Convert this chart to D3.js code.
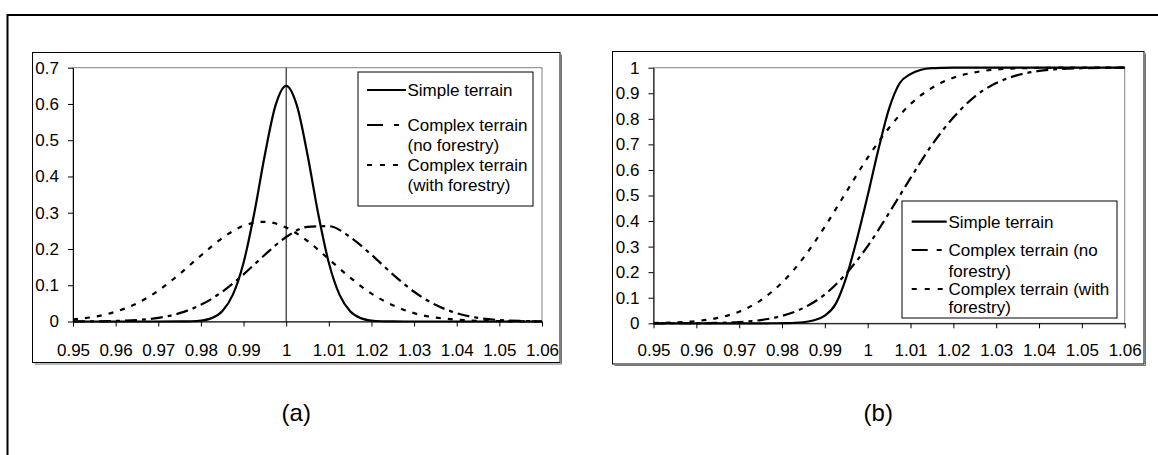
<!DOCTYPE html>
<html>
<head>
<meta charset="utf-8">
<script src="https://cdn.jsdelivr.net/npm/d3@7"></script>
<style>
  body { margin: 0; background: #fff; }
  svg text { font-family: "Liberation Sans", Arial, sans-serif; fill: #000; }
</style>
</head>
<body>
<svg id="fig" width="1158" height="455"></svg>
<script>
// x positions for the narrow "simple terrain" curves
const xFine = [0.95, 0.96, 0.97, 0.975, 0.9775, 0.98, 0.9825, 0.985, 0.9875, 0.99, 0.9925, 0.995, 0.9975, 1,
  1.0025, 1.005, 1.0075, 1.01, 1.0125, 1.015, 1.0175, 1.02, 1.0225, 1.025, 1.03, 1.04, 1.05, 1.06];
// x positions for the wider "complex terrain" curves
const xCoarse = [0.95, 0.955, 0.96, 0.965, 0.97, 0.975, 0.98, 0.985, 0.99, 0.995, 1, 1.005,
  1.01, 1.015, 1.02, 1.025, 1.03, 1.035, 1.04, 1.045, 1.05, 1.055, 1.06];

// (a) densities
const simpleA = [0, 0, 0, 0.0001, 0.0006, 0.0025, 0.0093, 0.0285, 0.074, 0.162, 0.298, 0.46, 0.596, 0.65,
  0.596, 0.46, 0.298, 0.162, 0.074, 0.0285, 0.0093, 0.0025, 0.0006, 0.0001, 0, 0, 0, 0];
const noForestA = [0.0001, 0.0004, 0.0014, 0.004, 0.010, 0.023, 0.046, 0.082, 0.130, 0.184, 0.233, 0.261,
  0.263, 0.233, 0.184, 0.130, 0.082, 0.046, 0.023, 0.010, 0.004, 0.0014, 0.0004];
const withForestA = [0.0057, 0.013, 0.027, 0.050, 0.085, 0.131, 0.182, 0.23, 0.264, 0.275, 0.259, 0.222,
  0.172, 0.121, 0.077, 0.045, 0.023, 0.011, 0.005, 0.002, 0.001, 0.0003, 0.0001];

// (b) cumulative
const simpleB = [0, 0, 0, 0, 0.0001, 0.0003, 0.0012, 0.004, 0.012, 0.03, 0.075, 0.18, 0.33, 0.5,
  0.68, 0.84, 0.94, 0.975, 0.992, 0.998, 0.9995, 1, 1, 1, 1, 1, 1, 1];
const noForestB = [0, 0.0002, 0.0005, 0.0017, 0.0048, 0.0125, 0.029, 0.06, 0.113, 0.195, 0.302, 0.432,
  0.568, 0.698, 0.805, 0.887, 0.94, 0.971, 0.9875, 0.995, 0.998, 0.9995, 1];
const withForestB = [0.0011, 0.0033, 0.0087, 0.021, 0.0455, 0.09, 0.159, 0.256, 0.378, 0.514, 0.648, 0.765,
  0.858, 0.921, 0.961, 0.982, 0.993, 0.9974, 0.9992, 1, 1, 1, 1];

const xTicks = [0.95, 0.96, 0.97, 0.98, 0.99, 1, 1.01, 1.02, 1.03, 1.04, 1.05, 1.06];
const xTickLabels = ['0.95', '0.96', '0.97', '0.98', '0.99', '1', '1.01', '1.02', '1.03', '1.04', '1.05', '1.06'];
const yTicksA = [0, 0.1, 0.2, 0.3, 0.4, 0.5, 0.6, 0.7];
const yTickLabelsA = ['0', '0.1', '0.2', '0.3', '0.4', '0.5', '0.6', '0.7'];
const yTicksB = [0, 0.1, 0.2, 0.3, 0.4, 0.5, 0.6, 0.7, 0.8, 0.9, 1];
const yTickLabelsB = ['0', '0.1', '0.2', '0.3', '0.4', '0.5', '0.6', '0.7', '0.8', '0.9', '1'];

const dashes = [null, '12,5,4,5', '5,7'];

const svg = d3.select('#fig');

// outer frame
svg.append('rect')
  .attr('x', 7.5).attr('y', 15)
  .attr('width', 1200).attr('height', 500)
  .attr('fill', 'none').attr('stroke', '#000').attr('stroke-width', 2);

function drawPanel(opt) {
  const g = svg.append('g');

  // chart box with small shadow
  g.append('path')
    .attr('d', `M${opt.box[2] + 1.5},${opt.box[1] + 2}V${opt.box[3] + 1.5}H${opt.box[0] + 2}`)
    .attr('fill', 'none').attr('stroke', '#777').attr('stroke-width', 1);
  g.append('rect')
    .attr('x', opt.box[0]).attr('y', opt.box[1])
    .attr('width', opt.box[2] - opt.box[0]).attr('height', opt.box[3] - opt.box[1])
    .attr('fill', '#fff').attr('stroke', '#000');

  const x = d3.scaleLinear().domain([0.95, 1.06]).range(opt.xRange);
  const y = d3.scaleLinear().domain(opt.yDomain).range(opt.yRange);

  // plot area border
  g.append('rect')
    .attr('x', opt.xRange[0]).attr('y', opt.yRange[1])
    .attr('width', opt.xRange[1] - opt.xRange[0]).attr('height', opt.yRange[0] - opt.yRange[1])
    .attr('fill', 'none').attr('stroke', '#808080');

  if (opt.vline) {
    g.append('line')
      .attr('x1', x(1)).attr('x2', x(1))
      .attr('y1', opt.yRange[0]).attr('y2', opt.yRange[1])
      .attr('stroke', '#000').attr('stroke-width', 1);
  }

  const xAxis = g.append('g')
    .attr('transform', `translate(0,${opt.yRange[0]})`)
    .call(d3.axisBottom(x).tickValues(xTicks).tickSize(5).tickSizeOuter(0)
      .tickFormat((d, i) => xTickLabels[i]));
  xAxis.selectAll('text')
    .attr('y', 356 - opt.yRange[0]).attr('dy', 0)
    .style('font-size', '17px');

  const yAxis = g.append('g')
    .attr('transform', `translate(${opt.xRange[0]},0)`)
    .call(d3.axisLeft(y).tickValues(opt.yTicks).tickSize(5).tickSizeOuter(0).tickPadding(9)
      .tickFormat((d, i) => opt.yTickLabels[i]));
  yAxis.selectAll('text').style('font-size', '17px');

  g.selectAll('.domain, .tick line').attr('stroke', '#000');

  const line = xs => d3.line()
    .x((d, i) => x(xs[i]))
    .y(d => y(d))
    .curve(d3.curveMonotoneX);

  opt.series.forEach((s, k) => {
    g.append('path')
      .attr('d', line(s.xs)(s.values))
      .attr('fill', 'none')
      .attr('stroke', '#000')
      .attr('stroke-width', 2.2)
      .attr('stroke-dasharray', dashes[k]);
  });

  // legend
  const L = opt.legend;
  g.append('rect')
    .attr('x', L.box[0]).attr('y', L.box[1])
    .attr('width', L.box[2] - L.box[0]).attr('height', L.box[3] - L.box[1])
    .attr('fill', '#fff').attr('stroke', '#000');

  L.entries.forEach((e, k) => {
    g.append('line')
      .attr('x1', L.lineX[0]).attr('x2', L.lineX[1])
      .attr('y1', e[0][1]).attr('y2', e[0][1])
      .attr('stroke', '#000').attr('stroke-width', 2.2)
      .attr('stroke-dasharray', L.dashes[k]);
    e.forEach(([txt, cy]) => {
      g.append('text')
        .attr('x', L.textX).attr('y', cy).attr('dy', '0.35em')
        .style('font-size', '17px')
        .text(txt);
    });
  });

  g.append('text')
    .attr('x', (opt.box[0] + opt.box[2]) / 2)
    .attr('y', 421)
    .attr('text-anchor', 'middle')
    .style('font-size', '24px')
    .text(opt.caption);
}

drawPanel({
  box: [32.5, 52.5, 560, 362.5],
  xRange: [73, 542],
  yRange: [321.5, 67.7],
  yDomain: [0, 0.7],
  yTicks: yTicksA,
  yTickLabels: yTickLabelsA,
  vline: true,
  series: [
    { xs: xFine, values: simpleA },
    { xs: xCoarse, values: noForestA },
    { xs: xCoarse, values: withForestA }
  ],
  legend: {
    box: [358, 72, 533, 206],
    lineX: [367, 406],
    textX: 407.5,
    dashes: [null, '16,11,5,20', '5,8'],
    entries: [
      [['Simple terrain', 90]],
      [['Complex terrain', 125], ['(no forestry)', 145]],
      [['Complex terrain', 165], ['(with forestry)', 185]]
    ]
  },
  caption: '(a)'
});

drawPanel({
  box: [612.5, 51.5, 1144, 364],
  xRange: [653.5, 1124.7],
  yRange: [323.3, 67.7],
  yDomain: [0, 1],
  yTicks: yTicksB,
  yTickLabels: yTickLabelsB,
  vline: false,
  series: [
    { xs: xFine, values: simpleB },
    { xs: xCoarse, values: noForestB },
    { xs: xCoarse, values: withForestB }
  ],
  legend: {
    box: [902, 201, 1117, 318],
    lineX: [911.7, 946.7],
    textX: 948.5,
    dashes: [null, '16,9,5,20', '5,8'],
    entries: [
      [['Simple terrain', 221.7]],
      [['Complex terrain (no', 250], ['forestry)', 271.5]],
      [['Complex terrain (with', 289], ['forestry)', 307]]
    ]
  },
  caption: '(b)'
});
</script>
</body>
</html>
